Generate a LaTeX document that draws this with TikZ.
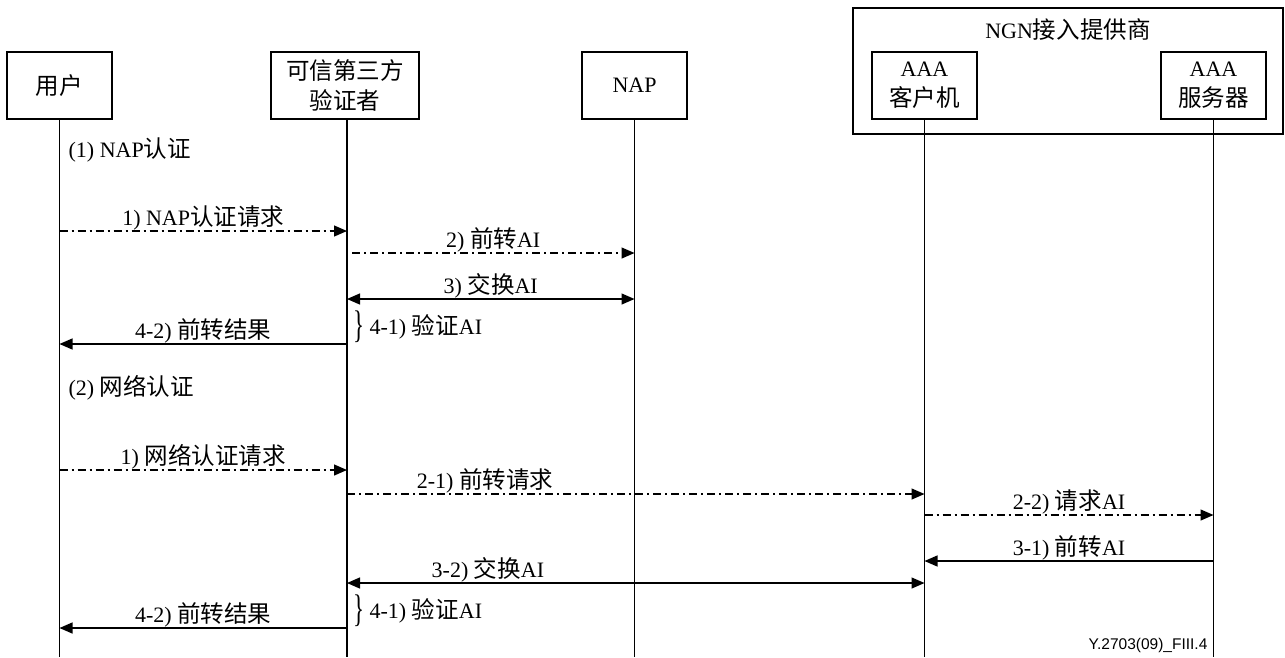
\documentclass[tikz,border=0pt]{standalone}
\usepackage{fontspec}
\setmainfont{Liberation Serif}
\newfontfamily\cjk[Scale=1.07]{Noto Sans CJK SC}
\newfontfamily\arialf{Liberation Sans}
\usetikzlibrary{arrows.meta}
\newcommand\zh[1]{{\cjk #1}}
\begin{document}
\begin{tikzpicture}[x=1pt,y=-1pt,
  line width=1.3pt,
  box/.style={draw, line width=1.3pt, minimum width=105pt, minimum height=67pt, align=center,
    font=\fontsize{22}{30}\selectfont, inner sep=0pt},
  life/.style={line width=1.3pt},
  msg/.style={line width=1.3pt, -{Triangle[length=13pt,width=11pt]}},
  bimsg/.style={line width=1.3pt, {Triangle[length=13pt,width=11pt]}-{Triangle[length=13pt,width=11pt]}},
  dd/.style={dash pattern=on 8pt off 4pt on 2pt off 4pt},
  lbl/.style={font=\fontsize{22}{26}\selectfont, inner sep=0pt, yshift=13pt},
  txt/.style={font=\fontsize{22}{26}\selectfont, inner sep=0pt},
  brc/.style={font=\fontsize{22}{26}\selectfont, inner sep=0pt}
]
\useasboundingbox (0,0) rectangle (1285,657);

% outer NGN box
\node[draw, line width=1.3pt, minimum width=430pt, minimum height=126pt, inner sep=0pt] (ngn) at (1068,71) {};
\node[txt] (ngnt) at (1068,30) {NGN\zh{接入提供商}};

% participant boxes
\node[box] (user) at (59.5,85.5) {\zh{用户}};
\node[box, minimum width=148pt] (ttp) at (345,85.5) {\zh{可信第三方}\\\zh{验证者}};
\node[box] (nap) at (634.5,85.5) {NAP};
\node[box] (cli) at (924.5,85.5) {AAA\\\zh{客户机}};
\node[box] (srv) at (1213.5,85.5) {AAA\\\zh{服务器}};

% lifelines
\coordinate (ue) at (59.5,657);
\coordinate (te) at (347,657);
\coordinate (ne) at (634.5,657);
\coordinate (ce) at (924.5,657);
\coordinate (se) at (1213.5,657);
\draw[life] (user.south) -- (ue);
\draw[life] (ttp.south -| te) -- (te);
\draw[life] (nap.south) -- (ne);
\draw[life] (cli.south) -- (ce);
\draw[life] (srv.south) -- (se);

% section 1
\node[txt, anchor=west] (s1) at (68,150) {(1) NAP\zh{认证}};
\draw[msg,dd] (ue |- 0,231) -- (te |- 0,231) node[lbl, midway] (m1) {1) NAP\zh{认证请求}};
\draw[msg,dd] (352,253) -- (ne |- 0,253) node[lbl, midway] (m2) {2) \zh{前转}AI};
\draw[bimsg] (te |- 0,299) -- (ne |- 0,299) node[lbl, midway] (m3) {3) \zh{交换}AI};
\node[brc] (b1) at (359,326.5) {\scalebox{1.05}[1.75]{\}}};
\node[txt, anchor=west] (m41) at (369,327) {4-1) \zh{验证}AI};
\draw[msg] (te |- 0,344) -- (ue |- 0,344) node[lbl, midway] (m42) {4-2) \zh{前转结果}};

% section 2
\node[txt, anchor=west] (s2) at (68,388) {(2) \zh{网络认证}};
\draw[msg,dd] (ue |- 0,470) -- (te |- 0,470) node[lbl, midway] (n1) {1) \zh{网络认证请求}};
\draw[msg,dd] (te |- 0,494) -- (ce |- 0,494) node[lbl, pos=0.239] (n21) {2-1) \zh{前转请求}};
\draw[msg,dd] (ce |- 0,515) -- (se |- 0,515) node[lbl, midway] (n22) {2-2) \zh{请求}AI};
\draw[msg] (se |- 0,561) -- (ce |- 0,561) node[lbl, midway] (n31) {3-1) \zh{前转}AI};
\draw[bimsg] (te |- 0,583) -- (ce |- 0,583) node[lbl, pos=0.244] (n32) {3-2) \zh{交换}AI};
\node[brc] (b2) at (359,610.5) {\scalebox{1.05}[1.75]{\}}};
\node[txt, anchor=west] (n41) at (369,611) {4-1) \zh{验证}AI};
\draw[msg] (te |- 0,628) -- (ue |- 0,628) node[lbl, midway] (n42) {4-2) \zh{前转结果}};

\node[font=\arialf\fontsize{15.5}{18}\selectfont, anchor=east, inner sep=0pt] (ref) at (1208,645) {Y.2703(09)\_FIII.4};
\end{tikzpicture}
\end{document}
